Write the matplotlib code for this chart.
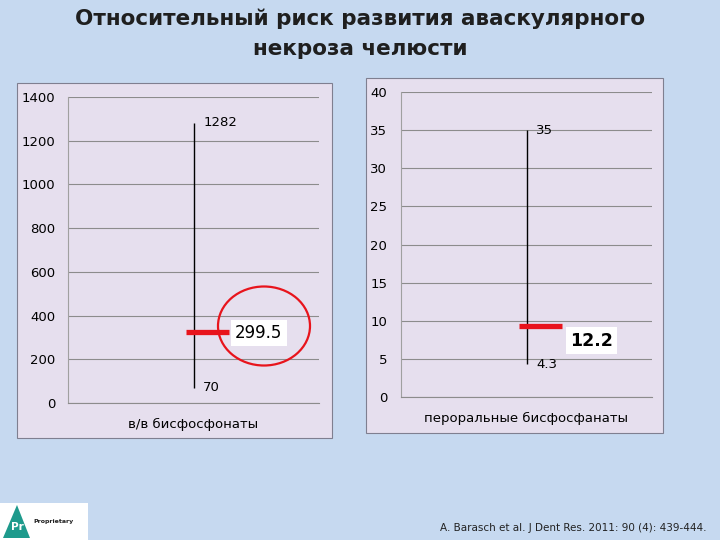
import matplotlib
matplotlib.use('Agg')
import matplotlib.pyplot as plt
from matplotlib.patches import Rectangle, Ellipse, Polygon

# данные
cats_iv = ['в/в бисфосфонаты']
high_iv = [1282]
low_iv = [70]
close_iv = [325]        # где нарисована красная черта
label_iv = ['299.5']
ticks_iv = [0, 200, 400, 600, 800, 1000, 1200, 1400]

cats_po = ['пероральные бисфосфанаты']
high_po = [35]
low_po = [4.3]
close_po = [9.3]
label_po = ['12.2']
ticks_po = [0, 5, 10, 15, 20, 25, 30, 35, 40]

W, H = 720, 540
bg = '#C6D9F0'
plot_bg = '#E6DFEE'
grid_c = '#8C8C8C'

fig = plt.figure(figsize=(7.2, 5.4), dpi=100, facecolor=bg)


def fx(px):
    return px / W


def fy(py):
    return 1 - py / H


# рамки диаграмм
for x0, y0, x1, y1 in [(17, 83, 332, 438), (366, 78, 663, 433)]:
    fig.patches.append(Rectangle((fx(x0), fy(y1)), fx(x1 - x0), (y1 - y0) / H,
                                 transform=fig.transFigure, facecolor=plot_bg,
                                 edgecolor='#7F7F90', lw=0.8, zorder=-1))


def draw(rect, cats, high, low, close, labels, ticks, ymax, pad_x, lab_fs, lab_bold, lab_xy):
    ax = fig.add_axes(rect)
    ax.set_facecolor('none')
    xs = list(range(len(cats)))
    ax.vlines(xs, low, high, color='black', lw=1.0, zorder=3)
    ax.hlines(close, [x - 0.03 for x in xs], [x + 0.14 for x in xs],
              color='#E8141C', lw=3.8, zorder=4)
    for x, h, l in zip(xs, high, low):
        ax.annotate(f'{h:g}', (x, h), xytext=(7, 0), textcoords='offset points',
                    ha='left', va='center', fontsize=9.5)
        ax.annotate(f'{l:g}', (x, l), xytext=(7, 0), textcoords='offset points',
                    ha='left', va='center', fontsize=9.5)
    for (tx, ty), t in zip(lab_xy, labels):
        ax.text(tx, ty, t, ha='center', va='center', fontsize=lab_fs,
                fontweight='bold' if lab_bold else 'normal',
                bbox=dict(facecolor='white', edgecolor='none', pad=3), zorder=5)
    ax.set_xlim(-0.5, 0.5)
    ax.set_ylim(0, ymax)
    ax.set_yticks(ticks)
    ax.set_yticklabels([str(t) for t in ticks], fontsize=9.5)
    ax.set_xticks(xs)
    ax.set_xticklabels(cats, fontsize=9.5)
    ax.tick_params(axis='y', length=0, pad=pad_x)
    ax.tick_params(axis='x', length=0, pad=11)
    ax.yaxis.grid(True, color=grid_c, lw=0.8)
    ax.set_axisbelow(True)
    for s in ['top', 'right']:
        ax.spines[s].set_visible(False)
    ax.spines['bottom'].set_color(grid_c)
    ax.spines['bottom'].set_linewidth(0.8)
    ax.spines['left'].set_color('#A0A0A0')
    ax.spines['left'].set_linewidth(0.8)
    return ax


draw([fx(68), fy(403), fx(319 - 68), (403 - 97) / H], cats_iv, high_iv, low_iv,
     close_iv, label_iv, ticks_iv, 1400, 9, 12, False, [(0.26, 320)])
draw([fx(401), fy(397), fx(652 - 401), (397 - 92) / H], cats_po, high_po, low_po,
     close_po, label_po, ticks_po, 40, 10, 12.5, True, [(0.26, 7.4)])

# красный овал
fig.patches.append(Ellipse((fx(264), fy(326)), fx(92), 79 / H, transform=fig.transFigure,
                           facecolor='none', edgecolor='#E8141C', lw=1.6, zorder=6))

fig.text(0.5, fy(34), 'Относительный риск развития аваскулярного\nнекроза челюсти',
         ha='center', va='center', fontsize=15.5, fontweight='bold', color='#1F1F1F',
         linespacing=1.6)

# логотип
fig.patches.append(Rectangle((0, 0), fx(88), 37 / H, transform=fig.transFigure,
                             facecolor='white', edgecolor='none'))
fig.patches.append(Polygon([(fx(3), fy(538)), (fx(30), fy(538)), (fx(17), fy(505))],
                           closed=True, transform=fig.transFigure, facecolor='#1E9A8C',
                           edgecolor='none'))
fig.text(fx(17), fy(527), 'Pr', ha='center', va='center', fontsize=7.5,
         fontweight='bold', color='white')
fig.text(fx(33), fy(522), 'Proprietary', ha='left', va='center', fontsize=4.5,
         fontweight='bold', color='#222222')

fig.text(fx(706), fy(528), 'A. Barasch et al. J Dent Res. 2011: 90 (4): 439-444.',
         ha='right', va='center', fontsize=7.5, color='#222222')

fig.savefig('out.png', dpi=100, facecolor=bg)
